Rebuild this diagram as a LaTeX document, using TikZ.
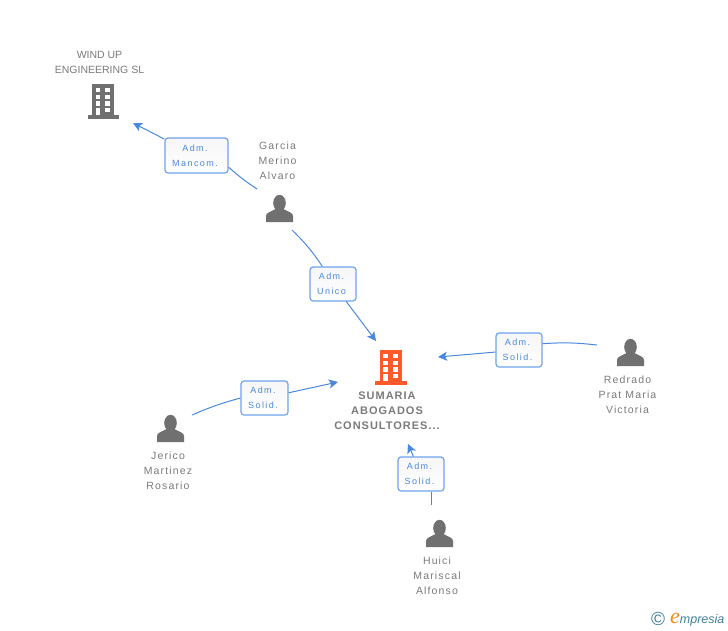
\documentclass[tikz,border=0pt]{standalone}
\usepackage{fontspec}
\setmainfont{Liberation Sans}
\newfontfamily\lblfont[LetterSpace=16]{Liberation Sans}
\newfontfamily\namefont[LetterSpace=11]{Liberation Sans}
\newfontfamily\firmfont[LetterSpace=9]{Liberation Sans}
\newfontfamily\logofont{Liberation Serif}
\usetikzlibrary{arrows.meta,shadings}
\definecolor{txtgrey}{HTML}{7A7A7A}
\definecolor{icongrey}{HTML}{707070}
\definecolor{linkblue}{HTML}{4A88E0}
\definecolor{boxblue}{HTML}{6FA3EC}
\definecolor{boxtop}{HTML}{F6F6F6}
\definecolor{mainorange}{HTML}{FF5A2B}
\definecolor{logoteal}{HTML}{3F7F9A}
\definecolor{logoorange}{HTML}{F08A1E}
\newcommand\roletext[2]{\hspace*{-3pt}\raisebox{-2pt}{#1}\\\hspace*{-3pt}\raisebox{-2pt}{#2}}
\tikzset{
  x=1pt,y=-1pt,
  rolebox/.style={draw=boxblue,line width=1.2pt,rounded corners=3pt,top color=boxtop,bottom color=white,
    text=linkblue,font=\lblfont\fontsize{9}{15}\selectfont,align=center,inner sep=0pt,anchor=center},
  nametext/.style={text=txtgrey,font=\namefont\fontsize{10.5}{15}\selectfont,align=center,inner sep=0pt,anchor=north},
  firmtext/.style={text=txtgrey,font=\fontsize{10.5}{15}\selectfont,align=center,inner sep=0pt,anchor=north},
  linkline/.style={draw=linkblue,line width=1pt},
  linkarrow/.style={linkline,-{Stealth[length=9pt,width=9pt,inset=2pt]}},
  pics/person/.style={code={
    \fill[icongrey] (0,8) ellipse[x radius=6.3,y radius=8.2];
    \fill[icongrey] (-13.5,27) -- (-13.5,21) .. controls (-13.5,17.5) and (-9,17) .. (-4,14) -- (4,14)
       .. controls (9,17) and (13.5,17.5) .. (13.5,21) -- (13.5,27) -- cycle;
  }},
  pics/tower/.style={code={
    \fill[#1] (0,0) rectangle (22,31);
    \fill[#1] (-4.5,31) rectangle (27,34.5);
    \foreach \r in {3.7,10.7,17.3} {
      \fill[white] (3.7,\r) rectangle (8.3,\r+4.5);
      \fill[white] (13.3,\r) rectangle (18.3,\r+4.5);
    }
    \fill[white] (13.3,24) rectangle (18.3,28.3);
    \fill[white] (3.7,24) rectangle (8.3,31);
  }}
}
\begin{document}
\begin{tikzpicture}
\useasboundingbox (0,0) rectangle (728,630);
% entities
\pic at (92,84) {tower=icongrey};
\pic at (379.5,350) {tower=mainorange};
\pic at (279.5,195) {person};
\pic at (630.5,339) {person};
\pic at (170.5,415) {person};
\pic at (439.5,520) {person};
\node[firmtext] (wind) at (99.5,51.5) {WIND UP\\ENGINEERING SL};
\node[firmtext,font=\firmfont\bfseries\fontsize{11}{15}\selectfont] (sumaria) at (387,392) {SUMARIA\\ABOGADOS\\CONSULTORES...};
\node[nametext] (garcia) at (277.5,141.5) {Garcia\\Merino\\Alvaro};
\node[nametext] (redrado) at (627.5,375.5) {Redrado\\Prat Maria\\Victoria};
\node[nametext] (jerico) at (168,451.5) {Jerico\\Martinez\\Rosario};
\node[nametext] (huici) at (437,556.5) {Huici\\Mariscal\\Alfonso};
% connector ends
\coordinate (gOutA) at (257,189);
\coordinate (windIn) at (133,123);
\coordinate (gOutB) at (292,230);
\coordinate (sumN) at (376,341);
\coordinate (rOut) at (597,345);
\coordinate (sumE) at (438,357);
\coordinate (jOut) at (192,415);
\coordinate (sumW) at (338,382);
\coordinate (hOut) at (431.4,505);
\coordinate (sumS) at (408,444);
% role boxes
\node[rolebox,minimum width=63pt,minimum height=35pt] (r1) at (196.5,155.5) {\roletext{Adm.}{Mancom.}};
\node[rolebox,minimum width=46pt,minimum height=34pt] (r2) at (333,284) {\roletext{Adm.}{Unico}};
\node[rolebox,minimum width=46pt,minimum height=34pt] (r3) at (519,350) {\roletext{Adm.}{Solid.}};
\node[rolebox,minimum width=47pt,minimum height=34pt] (r4) at (264.5,398) {\roletext{Adm.}{Solid.}};
\node[rolebox,minimum width=46pt,minimum height=34pt] (r5) at (421,474) {\roletext{Adm.}{Solid.}};
% connectors
\draw[linkline] (gOutA) to[bend left=4] (r1.-20);
\draw[linkarrow] (r1) -- (windIn);
\draw[linkline] (gOutB) to[bend left=6] (r2);
\draw[linkarrow] (r2) -- (sumN);
\draw[linkline] (rOut) to[bend right=5] (r3.15);
\draw[linkarrow] (r3) -- (sumE);
\draw[linkline] (jOut) to[bend left=4] (r4.west);
\draw[linkarrow] (r4) -- (sumW);
\draw[linkline] (hOut) -- (hOut |- r5.south);
\draw[linkarrow] (r5) -- (sumS);
% logo
\node[text=logoteal,inner sep=0pt,font=\fontsize{19}{19}\selectfont] (copy) at (658,619) {©};
\node[anchor=base west,inner sep=0pt,text=logoteal,font=\itshape\fontsize{12.5}{12}\selectfont] (logo) at (670,623) {\textcolor{logoorange}{\logofont\itshape\fontsize{22}{22}\selectfont e}mpresia};
\end{tikzpicture}
\end{document}
